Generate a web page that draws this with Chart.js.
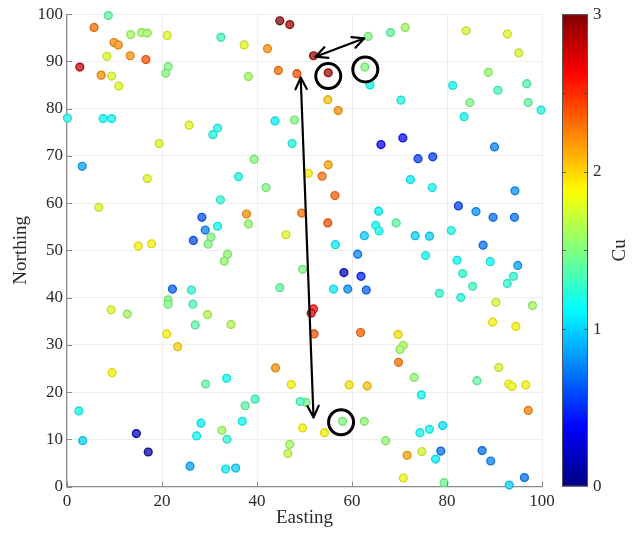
<!DOCTYPE html>
<html>
<head>
<meta charset="utf-8">
<script src="https://cdn.jsdelivr.net/npm/chart.js@4.4.1/dist/chart.umd.min.js"></script>
<style>
  html, body { margin: 0; padding: 0; background: #fff; }
  #wrap { width: 633px; height: 533px; position: relative; }
</style>
</head>
<body>
<div id="wrap"><canvas id="cuMap"></canvas></div>
<script>
// Sample locations (Easting / Northing) and Cu grade at each one
const easting = [
  8.7, 5.7, 13.4, 15.7, 16.9, 21.1, 9.9, 10.8, 8.4, 13.3, 16.6, 2.7, 7.2, 9.4, 10.9, 21.3, 20.8,
  32.4, 37.3, 42.2, 44.8, 46.9, 44.5, 48.4, 38.2, 0.1, 7.6, 9.4, 25.7, 31.7, 30.7, 43.8, 47.9,
  47.4, 19.4, 3.2, 39.4, 36.1, 41.9, 16.9, 6.7, 50.8, 32.3, 37.8, 38.2, 28.4, 29.1, 31.7, 26.6,
  30.3, 29.7, 15.0, 17.8, 46.1, 49.4, 51.9, 63.4, 68.1, 71.2, 55.0, 62.7, 63.8, 54.9, 57.1, 70.3,
  84.0, 92.7, 95.1, 88.7, 81.2, 90.7, 96.8, 84.8, 97.1, 99.8, 83.6, 66.1, 70.7, 73.9, 77.0, 90.0,
  72.3, 76.9, 55.0, 53.7, 56.4, 54.9, 94.3, 82.4, 86.1, 89.7, 94.2, 65.6, 65.0, 65.7, 69.3, 80.9,
  62.6, 73.3, 76.3, 87.6, 56.5, 61.2, 75.5, 82.1, 89.1, 94.9, 83.3, 94.0, 92.7, 85.4, 78.4, 82.9,
  58.3, 61.9, 56.1, 59.1, 63.0, 90.3, 98.0, 89.6, 94.5, 51.9, 51.4, 52.0, 61.8, 69.7, 70.8, 70.1,
  69.8, 73.1, 90.9, 86.3, 93.0, 93.7, 96.6, 59.4, 63.2, 74.6, 97.1, 58.0, 62.6, 49.6, 54.2, 67.1,
  74.3, 76.3, 79.1, 71.6, 74.7, 78.7, 77.6, 87.4, 89.2, 70.8, 79.4, 93.1, 96.3, 49.6, 50.3, 44.8,
  22.2, 26.2, 21.3, 21.3, 26.5, 9.3, 12.7, 29.6, 27.0, 34.5, 21.0, 23.3, 9.5, 43.9, 47.2, 33.6,
  29.2, 39.6, 37.5, 49.1, 2.5, 28.2, 36.9, 32.6, 27.3, 33.7, 14.6, 3.3, 17.1, 46.9, 46.5, 25.9,
  33.4, 35.5, 33.8, 33.1
];
const northing = [
  99.7, 97.2, 95.7, 96.1, 96.0, 95.5, 94.0, 93.5, 91.1, 91.2, 90.4, 88.8, 87.1, 86.9, 84.8, 88.9, 87.5,
  95.1, 93.5, 92.7, 98.6, 97.8, 88.1, 87.4, 86.8, 78.0, 77.9, 77.9, 76.5, 75.9, 74.5, 77.4, 77.6,
  72.6, 72.6, 67.8, 69.3, 65.6, 63.3, 65.2, 59.1, 66.3, 60.7, 57.7, 55.6, 57.0, 54.3, 55.1, 52.1,
  52.8, 51.3, 50.9, 51.4, 53.3, 57.9, 91.2, 95.3, 96.1, 97.2, 87.6, 88.8, 85.0, 81.9, 79.6, 81.8,
  96.5, 95.8, 91.8, 87.7, 84.9, 83.9, 85.3, 81.3, 81.3, 79.7, 78.3, 72.4, 73.8, 69.4, 69.8, 71.9,
  65.0, 63.3, 68.1, 65.7, 61.6, 55.8, 62.6, 59.4, 58.2, 57.0, 57.0, 58.3, 55.3, 54.1, 55.8, 54.2,
  53.1, 53.1, 53.0, 51.1, 51.2, 49.2, 48.9, 47.9, 47.6, 46.8, 45.1, 44.5, 43.0, 42.4, 40.9, 40.0,
  45.3, 44.5, 41.8, 41.8, 41.6, 39.0, 38.3, 34.8, 33.9, 37.6, 36.7, 32.3, 32.6, 32.2, 29.9, 29.0,
  26.3, 23.1, 25.2, 22.4, 21.7, 21.2, 21.5, 21.5, 21.3, 19.4, 16.1, 13.8, 13.8, 12.4, 11.4, 9.7,
  11.4, 12.1, 12.9, 6.6, 7.4, 7.5, 5.8, 7.6, 5.4, 1.8, 0.8, 0.3, 1.9, 46.0, 17.8, 42.1,
  41.8, 41.6, 39.5, 38.6, 38.6, 37.4, 36.5, 36.4, 34.2, 34.3, 32.3, 29.6, 24.1, 25.1, 21.6, 22.9,
  21.7, 18.5, 17.1, 18.0, 16.0, 13.4, 13.8, 11.9, 10.7, 10.0, 11.2, 9.7, 7.3, 8.9, 7.0, 4.3,
  3.7, 3.9, 49.2, 47.7
];
const cuValues = [
  1.4, 2.3, 1.6, 1.6, 1.6, 1.8, 2.2, 2.2, 1.8, 2.2, 2.4, 2.8, 2.2, 1.8, 1.8, 1.5, 1.5,
  1.3, 1.8, 2.2, 3.0, 2.9, 2.3, 2.4, 1.6, 1.2, 1.15, 1.15, 1.8, 1.2, 1.2, 1.1, 1.5,
  1.2, 1.8, 0.85, 1.5, 1.2, 1.5, 1.8, 1.8, 1.9, 1.25, 2.2, 1.55, 0.6, 0.75, 1.15, 0.6,
  1.5, 1.5, 1.9, 1.9, 1.8, 2.3, 2.9, 1.5, 1.4, 1.6, 2.9, 1.5, 1.15, 2.05, 2.2, 1.2,
  1.75, 1.8, 1.75, 1.55, 1.15, 1.3, 1.35, 1.5, 1.4, 1.2, 1.15, 0.35, 0.4, 0.55, 0.55, 0.75,
  1.1, 1.15, 2.15, 2.3, 2.35, 2.4, 0.8, 0.55, 0.8, 0.7, 0.7, 1.1, 1.15, 1.15, 1.4, 1.2,
  1.0, 1.0, 1.0, 0.7, 1.1, 0.75, 1.15, 1.15, 1.15, 0.85, 1.25, 1.25, 1.25, 1.3, 1.25, 1.2,
  0.2, 0.45, 1.1, 0.8, 0.65, 1.75, 1.6, 1.9, 1.9, 2.6, 2.75, 2.4, 2.35, 1.95, 1.6, 1.6,
  2.3, 1.55, 1.75, 1.4, 1.85, 1.85, 1.9, 1.95, 2.05, 1.15, 2.25, 1.5, 1.55, 1.9, 1.9, 1.55,
  1.15, 1.15, 1.05, 2.15, 1.75, 0.7, 1.1, 0.7, 0.75, 1.85, 1.45, 1.0, 0.7, 1.5, 1.5, 1.4,
  0.65, 1.25, 1.5, 1.5, 1.35, 1.8, 1.6, 1.65, 1.4, 1.65, 1.9, 2.0, 1.9, 2.2, 1.9, 1.15,
  1.4, 1.3, 1.4, 1.3, 1.15, 1.1, 1.15, 1.6, 1.15, 1.25, 0.2, 1.0, 0.1, 1.6, 1.7, 0.85,
  1.1, 1.0, 1.55, 1.55
];

// Axis ticks
const eastingTicks = [0, 20, 40, 60, 80, 100];
const northingTicks = [0, 10, 20, 30, 40, 50, 60, 70, 80, 90, 100];
const cuTicks = [0, 1, 2, 3];
const cuMinorTicks = [0.5, 1, 1.5, 2, 2.5];
const cuMax = 3;

// Highlighted samples and the arrows linking them (Easting, Northing)
const ringCentres = [[55.0, 86.9], [62.8, 88.3], [57.7, 13.6]];
const arrowLinks = [
  [[52.3, 91.0], [62.6, 94.9]],
  [[49.2, 86.6], [51.9, 14.6]]
];

// MATLAB-style jet colormap
function jet(v) {
  const t = Math.min(1, Math.max(0, v / cuMax));
  const c = x => Math.round(255 * Math.min(1, Math.max(0, x)));
  return [c(1.5 - Math.abs(4 * t - 3)), c(1.5 - Math.abs(4 * t - 2)), c(1.5 - Math.abs(4 * t - 1))];
}
const rgb = a => `rgb(${a[0]},${a[1]},${a[2]})`;
const mix = (a, b, k) => a.map((v, i) => Math.round(v + (b[i] - v) * k));

const points = easting.map((x, i) => ({ x, y: northing[i] }));
const edgeColors = cuValues.map(v => rgb(mix(jet(v), [90, 90, 90], 0.2)));
const fillColors = cuValues.map(v => rgb(mix(jet(v), [235, 235, 235], 0.3)));

const serif = 'Liberation Serif';
const inkColor = '#2a2a2a';

// inward tick marks on the left and bottom axes
const axisTicks = {
  id: 'axisTicks',
  afterDraw(chart) {
    const { ctx, chartArea: a, scales: { x, y } } = chart;
    ctx.save();
    ctx.strokeStyle = '#8a8a8a';
    ctx.lineWidth = 1;
    ctx.beginPath();
    eastingTicks.forEach(v => {
      const px = Math.round(x.getPixelForValue(v)) + 0.5;
      ctx.moveTo(px, a.bottom);
      ctx.lineTo(px, a.bottom - 5);
    });
    northingTicks.forEach(v => {
      const py = Math.round(y.getPixelForValue(v)) + 0.5;
      ctx.moveTo(a.left, py);
      ctx.lineTo(a.left + 5, py);
    });
    ctx.stroke();
    ctx.restore();
  }
};

// colour bar beside the plot, positioned by the cu scale
const colorBar = {
  id: 'colorBar',
  afterDraw(chart) {
    const { ctx, chartArea: a, scales: { cu } } = chart;
    const left = a.right + 20, width = 26;
    const top = cu.getPixelForValue(cuMax), bottom = cu.getPixelForValue(0);
    ctx.save();
    const grad = ctx.createLinearGradient(0, bottom, 0, top);
    for (let i = 0; i <= 60; i++) {
      grad.addColorStop(i / 60, rgb(jet(cuMax * i / 60)));
    }
    ctx.fillStyle = grad;
    ctx.fillRect(left, top, width, bottom - top);
    ctx.strokeStyle = '#555';
    ctx.lineWidth = 1;
    ctx.strokeRect(left + 0.5, top + 0.5, width - 1, bottom - top - 1);
    ctx.strokeStyle = 'rgba(60,60,60,0.7)';
    ctx.beginPath();
    cuMinorTicks.forEach(v => {
      const py = Math.round(cu.getPixelForValue(v)) + 0.5;
      ctx.moveTo(left, py); ctx.lineTo(left + 4, py);
      ctx.moveTo(left + width, py); ctx.lineTo(left + width - 4, py);
    });
    ctx.stroke();
    // Cu label, reading bottom to top
    ctx.translate(620, (top + bottom) / 2);
    ctx.rotate(-Math.PI / 2);
    ctx.fillStyle = inkColor;
    ctx.font = `19px "${serif}"`;
    ctx.textAlign = 'center';
    ctx.textBaseline = 'middle';
    ctx.fillText('Cu', 0, 0);
    ctx.restore();
  }
};

function arrowHead(ctx, tip, from, len, spread) {
  const ang = Math.atan2(tip.y - from.y, tip.x - from.x);
  ctx.moveTo(tip.x - len * Math.cos(ang - spread), tip.y - len * Math.sin(ang - spread));
  ctx.lineTo(tip.x, tip.y);
  ctx.lineTo(tip.x - len * Math.cos(ang + spread), tip.y - len * Math.sin(ang + spread));
}

// black rings and double-headed arrows over the samples
const markup = {
  id: 'markup',
  afterDatasetsDraw(chart) {
    const { ctx, scales: { x, y } } = chart;
    const px = p => ({ x: x.getPixelForValue(p[0]), y: y.getPixelForValue(p[1]) });
    ctx.save();
    ctx.strokeStyle = '#000';
    ctx.lineWidth = 3;
    ringCentres.forEach(c => {
      const p = px(c);
      ctx.beginPath();
      ctx.arc(p.x, p.y, 12.5, 0, Math.PI * 2);
      ctx.stroke();
    });
    ctx.lineWidth = 2.2;
    ctx.lineCap = 'round';
    ctx.lineJoin = 'round';
    arrowLinks.forEach(([s, e]) => {
      const a = px(s), b = px(e);
      ctx.beginPath();
      ctx.moveTo(a.x, a.y);
      ctx.lineTo(b.x, b.y);
      arrowHead(ctx, a, b, 13, 0.45);
      arrowHead(ctx, b, a, 13, 0.45);
      ctx.stroke();
    });
    ctx.restore();
  }
};

new Chart(document.getElementById('cuMap'), {
  type: 'scatter',
  data: {
    datasets: [{
      label: 'Cu',
      data: points,
      pointRadius: 3.9,
      pointHoverRadius: 3.9,
      pointBorderWidth: 1.4,
      pointBackgroundColor: fillColors,
      pointBorderColor: edgeColors,
      clip: 8
    }]
  },
  options: {
    responsive: true,
    maintainAspectRatio: false,
    animation: false,
    layout: { padding: { top: 11, left: 0, right: 0, bottom: 0 } },
    plugins: {
      legend: { display: false },
      tooltip: { enabled: false }
    },
    scales: {
      x: {
        type: 'linear',
        min: 0,
        max: 100,
        afterBuildTicks: s => { s.ticks = eastingTicks.map(value => ({ value })); },
        afterFit: s => { s.height = 46.5; },
        grid: { color: '#eeeeee', drawTicks: false },
        border: { display: true, color: '#8a8a8a', width: 1.2 },
        ticks: { padding: 5, color: inkColor, font: { family: serif, size: 17 } },
        title: {
          display: true,
          text: 'Easting',
          color: inkColor,
          font: { family: serif, size: 19 },
          padding: { top: 0, bottom: 4 }
        }
      },
      y: {
        type: 'linear',
        min: 0,
        max: 100,
        afterBuildTicks: s => { s.ticks = northingTicks.map(value => ({ value })); },
        afterFit: s => { s.width = 67; },
        grid: { color: '#eeeeee', drawTicks: false },
        border: { display: true, color: '#8a8a8a', width: 1.2 },
        ticks: { padding: 4, color: inkColor, font: { family: serif, size: 17 } },
        title: {
          display: true,
          text: 'Northing',
          color: inkColor,
          font: { family: serif, size: 19 },
          padding: { top: 10, bottom: 0 }
        }
      },
      cu: {
        type: 'linear',
        position: 'right',
        min: 0,
        max: cuMax,
        afterBuildTicks: s => { s.ticks = cuTicks.map(value => ({ value })); },
        afterFit: s => { s.width = 91; s.paddingTop = 0; s.paddingBottom = 0; },
        grid: { display: false, drawTicks: false },
        border: { display: false },
        ticks: { padding: 51, color: inkColor, font: { family: serif, size: 17 } }
      }
    }
  },
  plugins: [axisTicks, markup, colorBar]
});
</script>
</body>
</html>
